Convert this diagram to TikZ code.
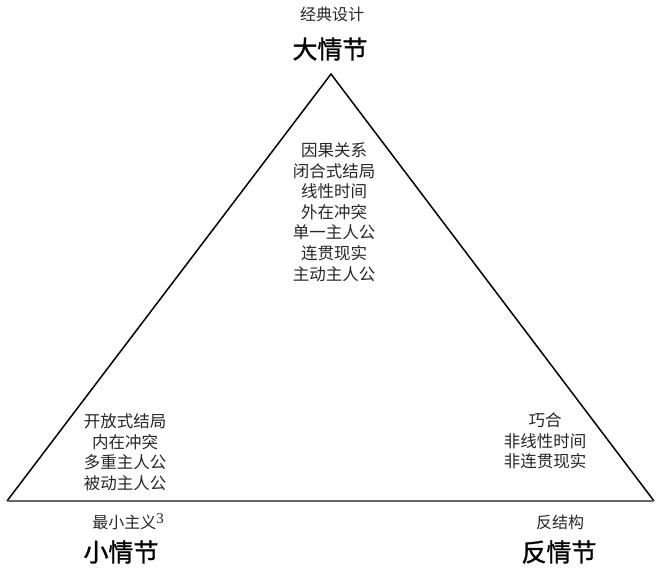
\documentclass[tikz,border=0pt]{standalone}
\usepackage{fontspec}
\setmainfont{Noto Sans CJK SC}
\newfontfamily\numfont{Liberation Serif}
\newfontfamily\titlefont[FakeBold=1.2]{Noto Sans CJK SC}
\usepackage{tikz}
\tikzstyle{side}=[draw,line width=1.5pt,black]
\tikzstyle{base}=[draw,line width=2pt,black!60]
\tikzstyle{trait}=[align=center,text=black!85,font=\fontsize{16.5}{20.6}\selectfont]
\tikzstyle{corner}=[font=\titlefont\fontsize{25}{28}\selectfont]
\tikzstyle{tag}=[text=black!85,font=\fontsize{16}{18}\selectfont]

\begin{document}
\begin{tikzpicture}[x=1pt,y=-1pt]
      \useasboundingbox (0,0) rectangle (659,568);
      \coordinate (top) at (331,74);
      \coordinate (left) at (7,501);
      \coordinate (right) at (654,501);
      \draw[side] (left) -- (top) -- (right);
      \draw[base] (left) -- (right);
      % corners
      \node[tag] (classic) at (332,14) {经典设计};
      \node[corner] (arch) at (330,49) {大情节};
      \node[tag] (minimal) at (128,522) {最小主义\raisebox{5pt}{\numfont\fontsize{15}{15}\selectfont 3}};
      \node[corner] (mini) at (121,552) {小情节};
      \node[tag] (anti) at (560,522) {反结构};
      \node[corner] (antiplot) at (559,552) {反情节};
      % traits
      \node[trait] (archlist) at (334,212) {因果关系\\闭合式结局\\线性时间\\外在冲突\\单一主人公\\连贯现实\\主动主人公};
      \node[trait] (minilist) at (125,452) {开放式结局\\内在冲突\\多重主人公\\被动主人公};
      \node[trait] (antilist) at (545,441) {巧合\\非线性时间\\非连贯现实};
    \end{tikzpicture}
\end{document}
